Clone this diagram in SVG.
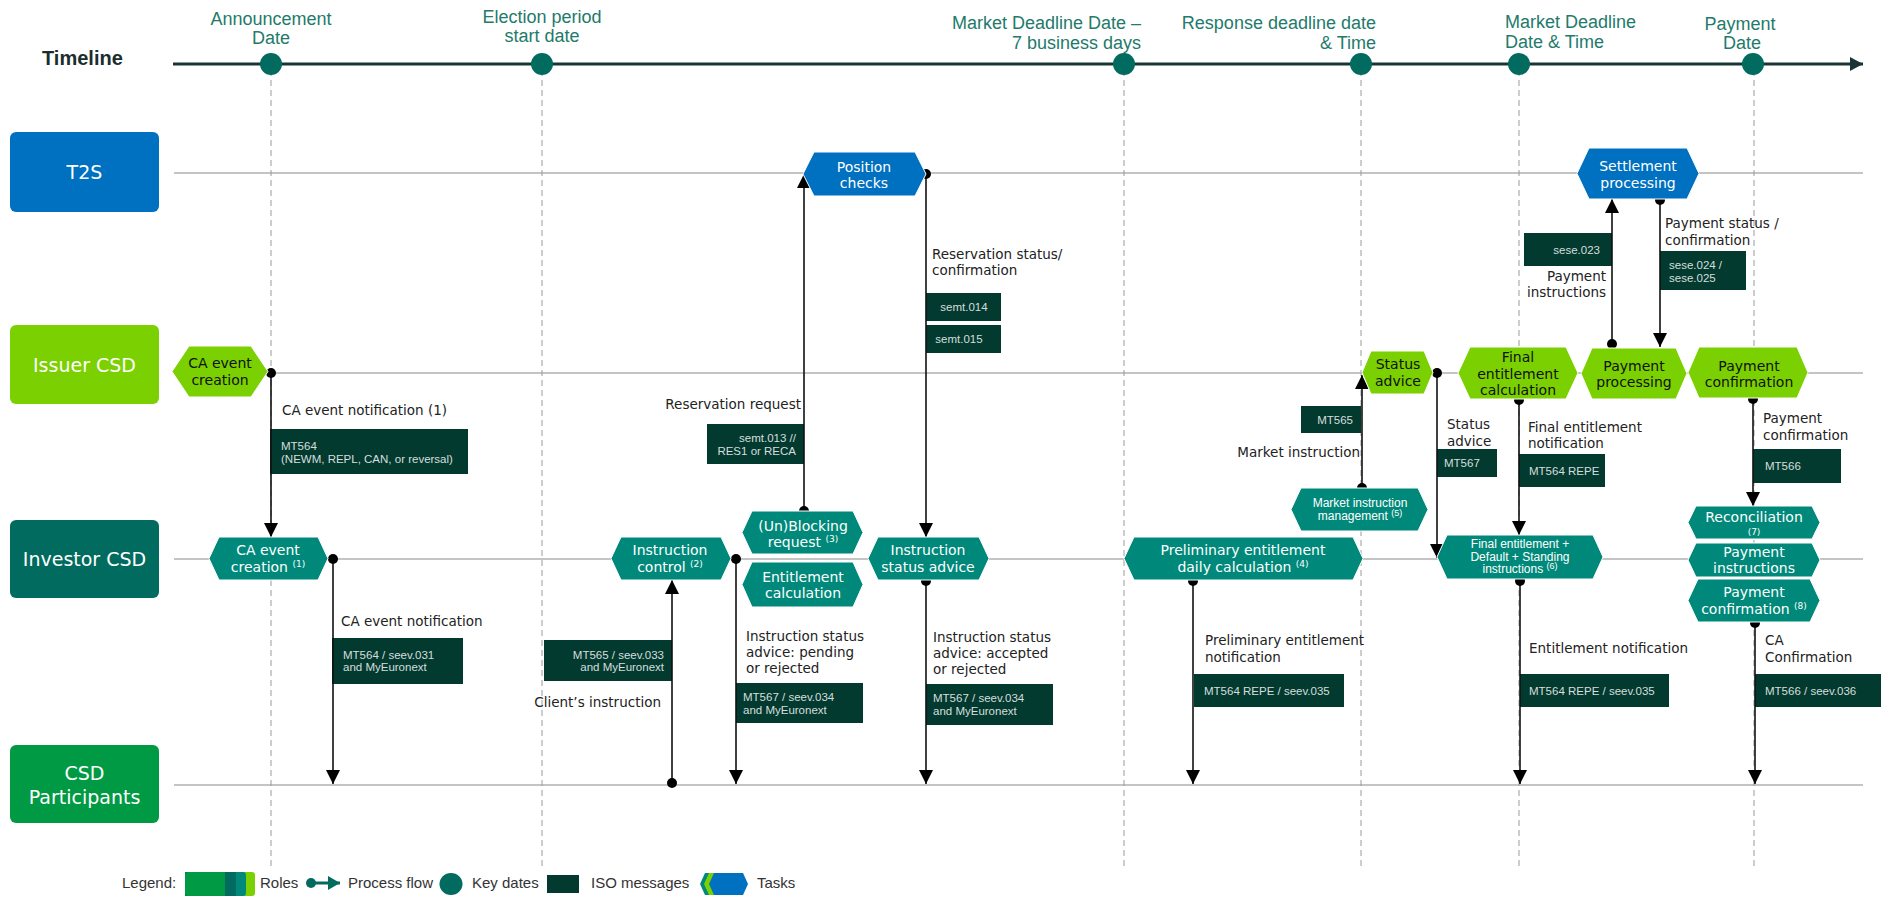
<svg xmlns="http://www.w3.org/2000/svg" width="1887" height="904" viewBox="0 0 1887 904">
<style>
.lane{stroke:#c4c4c4;stroke-width:2;fill:none}
.dash{stroke:#9a9a9a;stroke-width:1;stroke-dasharray:6 4;fill:none}
.conn{stroke:#111;stroke-width:1.6;fill:none;marker-start:url(#dot);marker-end:url(#arr)}
.tb{fill:#0070c0;stroke:#fff;stroke-width:1}
.tg{fill:#7ad000;stroke:#fff;stroke-width:1}
.tt{fill:#00897a;stroke:#fff;stroke-width:1}
.iso{fill:#033a30}
.isot{font-family:"Liberation Sans",Arial,sans-serif;font-size:11.5px;fill:#d5dedc}
.lbl{font-family:"DejaVu Sans",Verdana,sans-serif;font-size:13.5px;fill:#222}
.ht{font-family:"DejaVu Sans",Verdana,sans-serif;font-size:14px;text-anchor:middle}
.hs{font-family:"Liberation Sans",Arial,sans-serif;font-size:12px;text-anchor:middle;fill:#fff}
.w{fill:#fff}
.k{fill:#111}
.role{font-family:"DejaVu Sans",Verdana,sans-serif;font-size:19px;fill:#fff;text-anchor:middle}
.tl{font-family:"Liberation Sans",Arial,sans-serif;font-size:18px;fill:#237a6b}
.kd{fill:#006b5e}
.leg{font-family:"Liberation Sans",Arial,sans-serif;font-size:15px;fill:#333}
.sup{font-size:9px}
.tiny{font-size:9px}
</style>
<defs>
<marker id="dot" markerWidth="12" markerHeight="12" refX="6" refY="6" markerUnits="userSpaceOnUse"><circle cx="6" cy="6" r="5" fill="#000"/></marker>
<marker id="arr" markerWidth="16" markerHeight="16" refX="14" refY="7" orient="auto" markerUnits="userSpaceOnUse"><path d="M0,0 L14,7 L0,14 z" fill="#000"/></marker>
<marker id="tlarr" markerWidth="16" markerHeight="16" refX="13" refY="7" orient="auto" markerUnits="userSpaceOnUse"><path d="M0,0 L13,7 L0,14 z" fill="#1a3535"/></marker>
<marker id="legarr" markerWidth="14" markerHeight="14" refX="12" refY="7" orient="auto" markerUnits="userSpaceOnUse"><path d="M0,0 L12,7 L0,14 z" fill="#006b5e"/></marker>
</defs>
<rect width="1887" height="904" fill="#fff"/>

<!-- lanes -->
<g id="lanes">
<line class="lane" x1="174" y1="173" x2="1863" y2="173"/>
<line class="lane" x1="174" y1="373" x2="1863" y2="373"/>
<line class="lane" x1="174" y1="559" x2="1863" y2="559"/>
<line class="lane" x1="174" y1="785" x2="1863" y2="785"/>
</g>

<!-- key date dashed lines -->
<g id="keydate-lines">
<line class="dash" x1="271" y1="70" x2="271" y2="867"/>
<line class="dash" x1="542" y1="70" x2="542" y2="867"/>
<line class="dash" x1="1124" y1="70" x2="1124" y2="867"/>
<line class="dash" x1="1361" y1="70" x2="1361" y2="867"/>
<line class="dash" x1="1519" y1="70" x2="1519" y2="867"/>
<line class="dash" x1="1754" y1="70" x2="1754" y2="867"/>
</g>

<!-- timeline -->
<g id="timeline">
<text x="42" y="65" font-family="Liberation Sans, Arial, sans-serif" font-weight="bold" font-size="20" fill="#1a2e2e">Timeline</text>
<line x1="173" y1="64" x2="1863" y2="64" stroke="#1a3535" stroke-width="3" marker-end="url(#tlarr)"/>
<circle class="kd" cx="271" cy="64" r="11"/>
<circle class="kd" cx="542" cy="64" r="11"/>
<circle class="kd" cx="1124" cy="64" r="11"/>
<circle class="kd" cx="1361" cy="64" r="11"/>
<circle class="kd" cx="1519" cy="64" r="11"/>
<circle class="kd" cx="1753" cy="64" r="11"/>
<text class="tl" x="271" y="25" text-anchor="middle">Announcement</text>
<text class="tl" x="271" y="44" text-anchor="middle">Date</text>
<text class="tl" x="542" y="23" text-anchor="middle">Election period</text>
<text class="tl" x="542" y="42" text-anchor="middle">start date</text>
<text class="tl" x="1141" y="29" text-anchor="end">Market Deadline Date –</text>
<text class="tl" x="1141" y="49" text-anchor="end">7 business days</text>
<text class="tl" x="1376" y="29" text-anchor="end">Response deadline date</text>
<text class="tl" x="1376" y="49" text-anchor="end">&amp; Time</text>
<text class="tl" x="1505" y="28">Market Deadline</text>
<text class="tl" x="1505" y="48">Date &amp; Time</text>
<text class="tl" x="1740" y="30" text-anchor="middle">Payment</text>
<text class="tl" x="1742" y="49" text-anchor="middle">Date</text>
</g>

<!-- roles -->
<g id="role-t2s"><rect x="10" y="132" width="149" height="80" rx="6" fill="#0070c0"/><text class="role" x="84.5" y="179">T2S</text></g>
<g id="role-issuer"><rect x="10" y="325" width="149" height="79" rx="6" fill="#7ad000"/><text class="role" x="84.5" y="372">Issuer CSD</text></g>
<g id="role-investor"><rect x="10" y="520" width="149" height="78" rx="6" fill="#006b5e"/><text class="role" x="84.5" y="566">Investor CSD</text></g>
<g id="role-participants"><rect x="10" y="745" width="149" height="78" rx="6" fill="#009a44"/><text class="role" x="84.5" y="780">CSD</text><text class="role" x="84.5" y="804">Participants</text></g>

<!-- ISO messages -->
<g id="iso-messages">
<g id="msg-mt564-ca"><rect class="iso" x="270" y="429" width="198" height="45"/><text class="isot" x="281" y="450">MT564</text><text class="isot" x="281" y="463">(NEWM, REPL, CAN, or reversal)</text></g>
<g id="msg-mt564-seev031"><rect class="iso" x="332" y="638" width="131" height="46"/><text class="isot" x="343" y="659">MT564 / seev.031</text><text class="isot" x="343" y="671">and MyEuronext</text></g>
<g id="msg-mt565-seev033"><rect class="iso" x="544" y="640" width="128" height="41"/><text class="isot" x="664" y="659" text-anchor="end">MT565 / seev.033</text><text class="isot" x="664" y="671" text-anchor="end">and MyEuronext</text></g>
<g id="msg-mt567-pending"><rect class="iso" x="736" y="683" width="127" height="40"/><text class="isot" x="743" y="701">MT567 / seev.034</text><text class="isot" x="743" y="714">and MyEuronext</text></g>
<g id="msg-mt567-accepted"><rect class="iso" x="926" y="684" width="127" height="41"/><text class="isot" x="933" y="702">MT567 / seev.034</text><text class="isot" x="933" y="715">and MyEuronext</text></g>
<g id="msg-semt013"><rect class="iso" x="707" y="424" width="97" height="40"/><text class="isot" x="796" y="442" text-anchor="end">semt.013 //</text><text class="isot" x="796" y="455" text-anchor="end">RES1 or RECA</text></g>
<g id="msg-semt014"><rect class="iso" x="926" y="293" width="75" height="28"/><text class="isot" x="964" y="311" text-anchor="middle">semt.014</text></g>
<g id="msg-semt015"><rect class="iso" x="926" y="325" width="75" height="28"/><text class="isot" x="959" y="343" text-anchor="middle">semt.015</text></g>
<g id="msg-prelim"><rect class="iso" x="1194" y="674" width="150" height="33"/><text class="isot" x="1204" y="695">MT564 REPE / seev.035</text></g>
<g id="msg-mt565"><rect class="iso" x="1301" y="406" width="60" height="27"/><text class="isot" x="1353" y="424" text-anchor="end">MT565</text></g>
<g id="msg-mt567"><rect class="iso" x="1437" y="449" width="60" height="28"/><text class="isot" x="1444" y="467">MT567</text></g>
<g id="msg-mt564-repe"><rect class="iso" x="1519" y="454" width="86" height="33"/><text class="isot" x="1529" y="475">MT564 REPE</text></g>
<g id="msg-entitlement"><rect class="iso" x="1520" y="674" width="149" height="33"/><text class="isot" x="1529" y="695">MT564 REPE / seev.035</text></g>
<g id="msg-sese023"><rect class="iso" x="1524" y="233" width="88" height="33"/><text class="isot" x="1600" y="254" text-anchor="end">sese.023</text></g>
<g id="msg-sese024"><rect class="iso" x="1660" y="251" width="86" height="39"/><text class="isot" x="1669" y="269">sese.024 /</text><text class="isot" x="1669" y="282">sese.025</text></g>
<g id="msg-mt566"><rect class="iso" x="1753" y="449" width="88" height="34"/><text class="isot" x="1765" y="470">MT566</text></g>
<g id="msg-mt566-seev036"><rect class="iso" x="1755" y="674" width="126" height="33"/><text class="isot" x="1765" y="695">MT566 / seev.036</text></g>
</g>

<!-- connectors -->
<g id="connectors">
<line class="conn" x1="271" y1="373" x2="271" y2="537"/>
<line class="conn" x1="333" y1="559" x2="333" y2="784"/>
<line class="conn" x1="672" y1="783" x2="672" y2="580"/>
<line class="conn" x1="736" y1="559" x2="736" y2="784"/>
<line class="conn" x1="804" y1="511" x2="804" y2="174"/>
<line class="conn" x1="926" y1="174" x2="926" y2="537"/>
<line class="conn" x1="926" y1="581" x2="926" y2="784"/>
<line class="conn" x1="1193" y1="581" x2="1193" y2="784"/>
<line class="conn" x1="1362" y1="488" x2="1362" y2="375"/>
<line class="conn" x1="1437" y1="373" x2="1437" y2="558"/>
<line class="conn" x1="1519" y1="400" x2="1519" y2="535"/>
<line class="conn" x1="1520" y1="581" x2="1520" y2="784"/>
<line class="conn" x1="1612" y1="344" x2="1612" y2="199"/>
<line class="conn" x1="1660" y1="200" x2="1660" y2="347"/>
<line class="conn" x1="1753" y1="399" x2="1753" y2="506"/>
<line class="conn" x1="1755" y1="623" x2="1755" y2="784"/>
</g>

<!-- connector labels -->
<g id="connector-labels">
<text class="lbl" x="282" y="415">CA event notification (1)</text>
<text class="lbl" x="341" y="626">CA event notification</text>
<text class="lbl" x="661" y="707" text-anchor="end">Client’s instruction</text>
<text class="lbl" x="746" y="641">Instruction status</text>
<text class="lbl" x="746" y="657">advice: pending</text>
<text class="lbl" x="746" y="673">or rejected</text>
<text class="lbl" x="933" y="642">Instruction status</text>
<text class="lbl" x="933" y="658">advice: accepted</text>
<text class="lbl" x="933" y="674">or rejected</text>
<text class="lbl" x="801" y="409" text-anchor="end">Reservation request</text>
<text class="lbl" x="932" y="259">Reservation status/</text>
<text class="lbl" x="932" y="275">confirmation</text>
<text class="lbl" x="1205" y="645">Preliminary entitlement</text>
<text class="lbl" x="1205" y="662">notification</text>
<text class="lbl" x="1360" y="457" text-anchor="end">Market instruction</text>
<text class="lbl" x="1447" y="429">Status</text>
<text class="lbl" x="1447" y="446">advice</text>
<text class="lbl" x="1528" y="432">Final entitlement</text>
<text class="lbl" x="1528" y="448">notification</text>
<text class="lbl" x="1529" y="653">Entitlement notification</text>
<text class="lbl" x="1665" y="228">Payment status /</text>
<text class="lbl" x="1665" y="245">confirmation</text>
<text class="lbl" x="1606" y="281" text-anchor="end">Payment</text>
<text class="lbl" x="1606" y="297" text-anchor="end">instructions</text>
<text class="lbl" x="1763" y="423">Payment</text>
<text class="lbl" x="1763" y="440">confirmation</text>
<text class="lbl" x="1765" y="645">CA</text>
<text class="lbl" x="1765" y="662">Confirmation</text>
</g>

<!-- task nodes -->
<g id="task-position-checks"><polygon class="tb" points="803,174 814,152 915,152 926,174 915,196 814,196"/><text class="ht w" x="864" y="172">Position</text><text class="ht w" x="864" y="188">checks</text></g>
<g id="task-settlement-processing"><polygon class="tb" points="1577,173.5 1589,148 1687,148 1699,173.5 1687,199 1589,199"/><text class="ht w" x="1638" y="171">Settlement</text><text class="ht w" x="1638" y="188">processing</text></g>

<g id="task-ca-event-creation-issuer"><polygon class="tg" points="172,371.5 189,346 251,346 268,371.5 251,397 189,397"/><text class="ht k" x="220" y="368">CA event</text><text class="ht k" x="220" y="385">creation</text></g>
<g id="task-status-advice"><polygon class="tg" points="1362,372.5 1371,351 1424,351 1433,372.5 1424,394 1371,394"/><text class="ht k" x="1398" y="369">Status</text><text class="ht k" x="1398" y="386">advice</text></g>
<g id="task-final-entitlement-calculation"><polygon class="tg" points="1458,373 1470,347 1566,347 1578,373 1566,399 1470,399"/><text class="ht k" x="1518" y="362">Final</text><text class="ht k" x="1518" y="379">entitlement</text><text class="ht k" x="1518" y="395">calculation</text></g>
<g id="task-payment-processing"><polygon class="tg" points="1581,373.5 1592,348 1676,348 1687,373.5 1676,399 1592,399"/><text class="ht k" x="1634" y="371">Payment</text><text class="ht k" x="1634" y="387">processing</text></g>
<g id="task-payment-confirmation-issuer"><polygon class="tg" points="1688,372.5 1699,347 1797,347 1808,372.5 1797,398 1699,398"/><text class="ht k" x="1749" y="371">Payment</text><text class="ht k" x="1749" y="387">confirmation</text></g>

<g id="task-ca-event-creation-investor"><polygon class="tt" points="209,558.5 219,537 318,537 328,558.5 318,580 219,580"/><text class="ht w" x="268" y="555">CA event</text><text class="ht w" x="268" y="572">creation <tspan class="sup" dy="-5">(1)</tspan></text></g>
<g id="task-instruction-control"><polygon class="tt" points="611,558.5 621,537 721,537 731,558.5 721,580 621,580"/><text class="ht w" x="670" y="555">Instruction</text><text class="ht w" x="670" y="572">control <tspan class="sup" dy="-5">(2)</tspan></text></g>
<g id="task-unblocking-request"><polygon class="tt" points="742,532.5 752,511 853,511 863,532.5 853,554 752,554"/><text class="ht w" x="803" y="531">(Un)Blocking</text><text class="ht w" x="803" y="547">request <tspan class="sup" dy="-5">(3)</tspan></text></g>
<g id="task-entitlement-calculation"><polygon class="tt" points="742,584.5 752,562 853,562 863,584.5 853,607 752,607"/><text class="ht w" x="803" y="582">Entitlement</text><text class="ht w" x="803" y="598">calculation</text></g>
<g id="task-instruction-status-advice"><polygon class="tt" points="868,558.5 878,537 979,537 989,558.5 979,580 878,580"/><text class="ht w" x="928" y="555">Instruction</text><text class="ht w" x="928" y="572">status advice</text></g>
<g id="task-preliminary-entitlement"><polygon class="tt" points="1124,558.5 1134,537 1353,537 1363,558.5 1353,580 1134,580"/><text class="ht w" x="1243" y="555">Preliminary entitlement</text><text class="ht w" x="1243" y="572">daily calculation <tspan class="sup" dy="-5">(4)</tspan></text></g>
<g id="task-market-instruction-management"><polygon class="tt" points="1291,509.5 1301,488 1418,488 1428,509.5 1418,531 1301,531"/><text class="hs" x="1360" y="507">Market instruction</text><text class="hs" x="1360" y="520">management <tspan class="sup" dy="-4">(5)</tspan></text></g>
<g id="task-final-entitlement-default"><polygon class="tt" points="1437,557 1447,535 1593,535 1603,557 1593,579 1447,579"/><text class="hs" x="1520" y="548">Final entitlement  +</text><text class="hs" x="1520" y="561">Default  +  Standing</text><text class="hs" x="1520" y="573">instructions  <tspan class="sup" dy="-4">(6)</tspan></text></g>
<g id="task-reconciliation"><polygon class="tt" points="1688,522.5 1696,506 1812,506 1820,522.5 1812,539 1696,539"/><text class="ht w" x="1754" y="522">Reconciliation</text><text class="ht w tiny" x="1754" y="535">(7)</text></g>
<g id="task-payment-instructions"><polygon class="tt" points="1688,560 1696,543 1812,543 1820,560 1812,577 1696,577"/><text class="ht w" x="1754" y="557">Payment</text><text class="ht w" x="1754" y="573">instructions</text></g>
<g id="task-payment-confirmation-investor"><polygon class="tt" points="1688,600.5 1698,579 1810,579 1820,600.5 1810,622 1698,622"/><text class="ht w" x="1754" y="597">Payment</text><text class="ht w" x="1754" y="614">confirmation <tspan class="sup" dy="-5">(8)</tspan></text></g>

<!-- legend -->
<g id="legend">
<text class="leg" x="122" y="888">Legend:</text>
<rect x="185" y="872" width="70" height="24" rx="3" fill="#7ad000"/>
<rect x="185" y="872" width="61" height="24" rx="3" fill="#00897a"/>
<rect x="185" y="872" width="51" height="24" fill="#006b5e"/>
<rect x="185" y="872" width="40" height="24" rx="3" fill="#009a44"/>
<rect x="200" y="872" width="25" height="24" fill="#009a44"/>
<text class="leg" x="260" y="888">Roles</text>
<circle cx="311" cy="883" r="5" fill="#006b5e"/>
<line x1="311" y1="883" x2="340" y2="883" stroke="#006b5e" stroke-width="3" marker-end="url(#legarr)"/>
<text class="leg" x="348" y="888">Process flow</text>
<ellipse cx="451" cy="884" rx="11.5" ry="11" fill="#006b5e"/>
<text class="leg" x="472" y="888">Key dates</text>
<rect x="547" y="875" width="32" height="18" fill="#033a30"/>
<text class="leg" x="591" y="888">ISO messages</text>
<polygon points="700,884 705,873 720,873 720,895 705,895" fill="#00897a"/>
<polygon points="704,884 709,873 724,873 724,895 709,895" fill="#7ad000"/>
<polygon points="709,884 714,873 743,873 748,884 743,895 714,895" fill="#0070c0"/>
<text class="leg" x="757" y="888">Tasks</text>
</g>
</svg>
